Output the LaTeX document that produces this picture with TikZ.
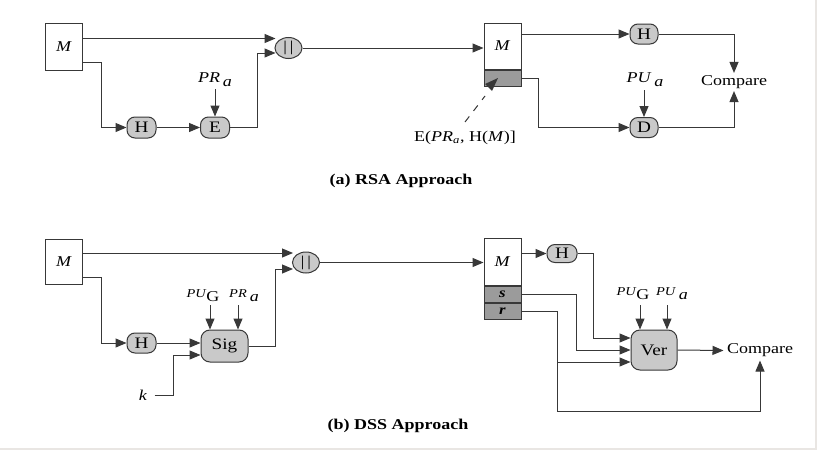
\documentclass[tikz,border=0pt]{standalone}
\usepackage{fontspec}
\usepackage{graphicx}
\setmainfont{Liberation Serif}
\usetikzlibrary{arrows.meta,calc,shapes.geometric}
\definecolor{ln}{HTML}{383838}
\definecolor{nf}{HTML}{C9C9C9}
\definecolor{gf}{HTML}{9B9B9B}
\definecolor{edgecol}{HTML}{E9E6E3}
\newcommand\hs[1]{\scalebox{1.2}[1]{#1}}
\begin{document}
\begin{tikzpicture}[x=1pt,y=-1pt,line width=1pt,
  box/.style={draw=ln,fill=white,inner sep=0pt,minimum width=37pt,font=\fontsize{15}{15}\selectfont},
  gbox/.style={draw=ln,fill=gf,inner sep=0pt,minimum width=37pt,minimum height=16pt,font=\fontsize{14}{14}\selectfont},
  rnd/.style={draw=ln,fill=nf,rounded corners=8pt,inner sep=0pt,minimum width=29pt,minimum height=21pt,font=\fontsize{16}{16}\selectfont},
  pill/.style={ellipse,draw=ln,fill=nf,inner sep=0pt,minimum width=27pt,minimum height=21pt,font=\fontsize{15}{15}\selectfont},
  arr/.style={draw=ln,-{Triangle[length=11pt,width=9pt]}},
  lbl/.style={inner sep=0pt,font=\fontsize{15}{15}\selectfont},
  slbl/.style={inner sep=0pt,font=\fontsize{15}{15}\selectfont}]
\useasboundingbox (0,0) rectangle (817,450);
\fill[white] (0,0) rectangle (817,450);
\fill[edgecol] (815,0) rectangle (817,450);
\fill[edgecol] (0,448) rectangle (817,450);

% ---------- (a) RSA ----------
\node[box,minimum height=47pt] (M1) at (64,46.5) {\hs{\textit{M}}};
\node[pill] (P1) at (288.5,48) {\hs{|\,|}};
\node[rnd] (H1) at (141.5,127.5) {\hs{H}};
\node[rnd] (E1) at (215,127.5) {\hs{E}};
\node[lbl] (PRa) at (215,80) {\hs{\textit{PR}\,\raisebox{-4pt}{\textit{a}}}};
\coordinate (pa) at (215,89);
\draw[arr] (pa) -- (E1.north);
\coordinate (a1) at ($(P1.west)+(1,-9.5)$);
\coordinate (a2) at ($(P1.west)+(1,5)$);
\draw[arr] (M1.east |- a1) -- (a1);
\draw[arr] ($(M1.south east)+(0,-8)$) -- ++(18,0) |- (H1.west);
\draw[arr] (H1) -- (E1);
\draw[arr] (E1.east) -- ++(27.5,0) |- (a2);

\node[box,minimum height=46pt] (RM1) at (502.5,46) {\hs{\textit{M}}};
\node[gbox,anchor=north] (RS1) at (RM1.south) {};
\draw[arr] (P1.east) -- (RM1.west |- P1.east);
\node[rnd,minimum width=28pt,minimum height=20pt] (H2) at (644,34) {\hs{H}};
\node[rnd,minimum width=28pt,minimum height=20pt] (D1) at (644,127.5) {\hs{D}};
\node[lbl] (PUa) at (645,80) {\hs{\textit{PU}\,\raisebox{-4pt}{\textit{a}}}};
\coordinate (pu) at (644,90);
\draw[arr] (pu) -- (D1.north);
\draw[arr] (RM1.east |- H2) -- (H2);
\draw[arr] (RS1.east) -- ++(17,0) |- (D1.west);
\node[lbl,inner sep=2pt] (C1) at (734,82) {\hs{Compare}};
\draw[arr] (H2.east) -| (C1.north);
\draw[arr] (D1.east) -| (C1.south);

\node[lbl] (EL) at (465,138) {\hs{E(\textit{PR}\textsubscript{\textit{a}}, H(\textit{M})]}};
\coordinate (d1) at (465,122);
\coordinate (d2) at (485,96);
\draw[ln,dash pattern=on 7pt off 7pt] (d1) -- (d2);
\fill[ln] (485,84) -- (498,78) -- (492,91) -- cycle;

\node[lbl] (T1) at (401,181) {\hs{\textbf{(a) RSA Approach}}};

% ---------- (b) DSS ----------
\node[box,minimum height=45pt] (M2) at (64,261.5) {\hs{\textit{M}}};
\node[pill] (P2) at (306,262.5) {\hs{|\,|}};
\coordinate (b1) at ($(P2.west)+(1,-9.5)$);
\coordinate (b2) at ($(P2.west)+(1,6.5)$);
\draw[arr] (M2.east |- b1) -- (b1);
\node[rnd,minimum height=20pt] (H3) at (141.5,343) {\hs{H}};
\node[rnd,minimum width=47pt,minimum height=32pt,rounded corners=9pt] (Sig) at (224.5,346) {\hs{Sig}};
\draw[arr] ($(M2.south east)+(0,-7)$) -- ++(18,0) |- (H3.west);
\draw[arr] (H3.east) -- (H3.east -| Sig.west);
\node[lbl] (K) at (143,395) {\hs{\textit{k}}};
\coordinate (k2) at ($(Sig.west)+(0,9)$);
\draw[arr] ($(K.east)+(7,0)$) -| ($(k2)+(-27,0)$) -- (k2);
\node[slbl] (PUG1) at (203,296) {\hs{{\fontsize{12}{12}\selectfont\textit{PU}}\raisebox{-4pt}{G}}};
\node[slbl] (PRa2) at (244,296) {\hs{{\fontsize{12}{12}\selectfont\textit{PR}}\,\raisebox{-4pt}{\textit{a}}}};
\coordinate (g1) at (210,305);
\coordinate (g2) at (238,305);
\draw[arr] (g1) -- (g1 |- Sig.north);
\draw[arr] (g2) -- (g2 |- Sig.north);
\draw[arr] (Sig.east) -- ++(27,0) |- (b2);

\node[box,minimum height=47pt] (RM2) at (502.5,261.5) {\hs{\textit{M}}};
\node[gbox,anchor=north] (Rs2) at (RM2.south) {\hs{\textbf{\textit{s}}}};
\node[gbox,anchor=north] (Rr2) at (Rs2.south) {\hs{\textbf{\textit{r}}}};
\draw[arr] (P2.east) -- (RM2.west |- P2.east);
\node[rnd,minimum width=30pt,minimum height=18pt] (H4) at (562,253.5) {\hs{H}};
\node[rnd,minimum width=46pt,minimum height=40pt,rounded corners=9pt] (Ver) at (654,350) {\hs{Ver}};
\draw[arr] (RM2.east |- H4) -- (H4);
\draw[arr] (H4.east) -- ++(16,0) |- ($(Ver.west)+(0,-12)$);
\draw[arr] (Rs2.east) -- ++(55,0) |- (Ver.west);
\node[lbl,inner sep=3pt] (C2) at (760,350.5) {\hs{Compare}};
\coordinate (rb) at ($(Rr2.east)+(36,0)$);
\coordinate (v3) at ($(Ver.west)+(0,12)$);
\draw[arr] (Rr2.east) -- (rb) -- ($(rb)+(0,100)$) -| (C2.south);
\draw[arr] (rb |- v3) -- (v3);
\node[slbl] (PUG2) at (633,294) {\hs{{\fontsize{12}{12}\selectfont\textit{PU}}\raisebox{-4pt}{G}}};
\node[slbl] (PUa2) at (672,294) {\hs{{\fontsize{12}{12}\selectfont\textit{PU}}\,\raisebox{-4pt}{\textit{a}}}};
\coordinate (g3) at (640,305);
\coordinate (g4) at (667,305);
\draw[arr] (g3) -- (g3 |- Ver.north);
\draw[arr] (g4) -- (g4 |- Ver.north);
\draw[arr] (Ver.east) -- (C2.west);

\node[lbl] (T2) at (398,426) {\hs{\textbf{(b) DSS Approach}}};
\end{tikzpicture}
\end{document}
